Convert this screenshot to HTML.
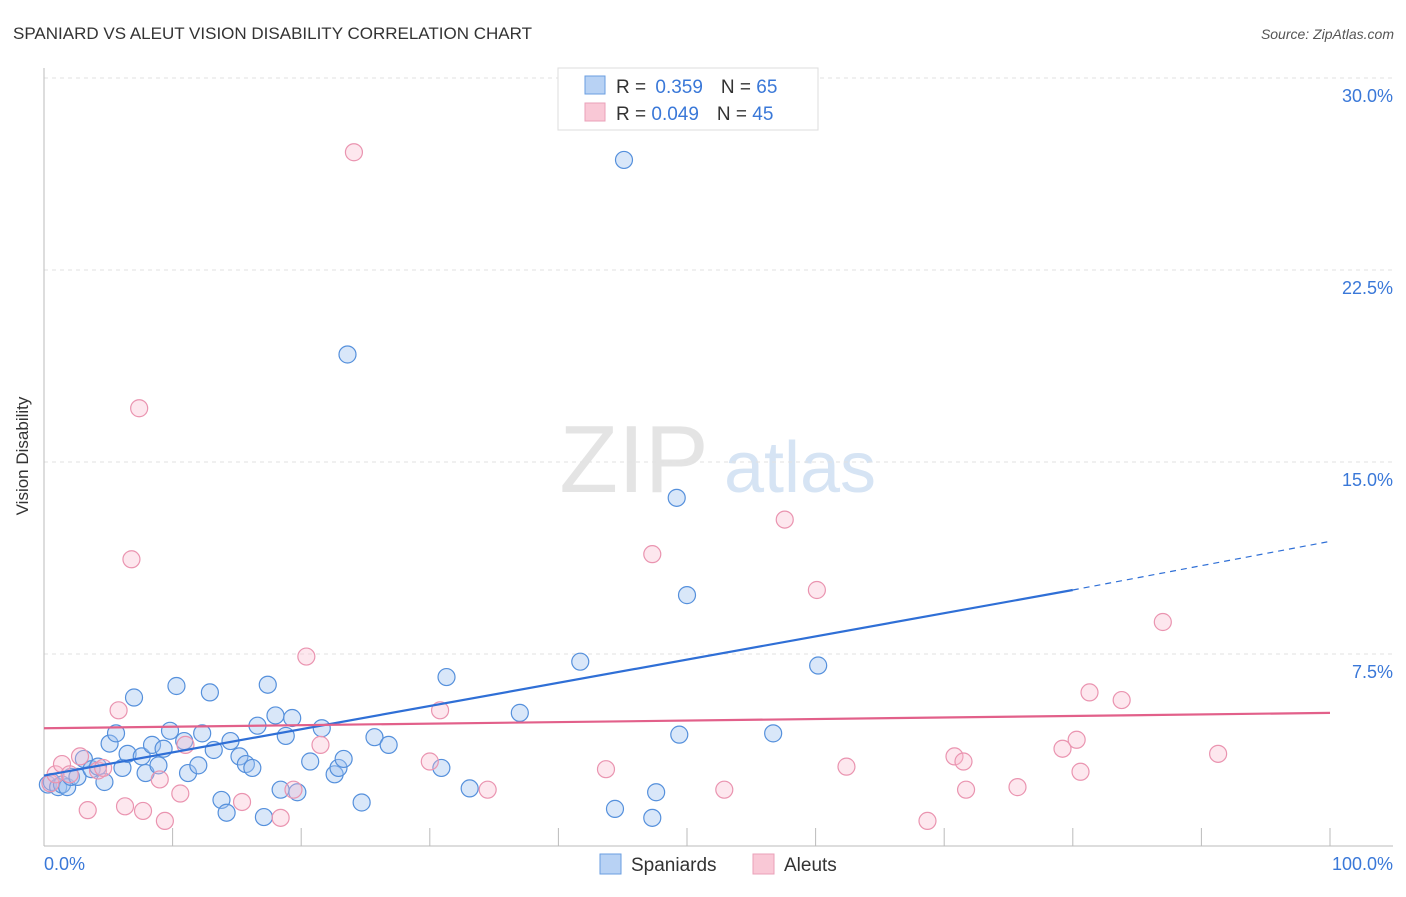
<!DOCTYPE html>
<html><head><meta charset="utf-8"><style>
body{margin:0;background:#fff;font-family:"Liberation Sans",sans-serif}
svg text{font-family:"Liberation Sans",sans-serif}
</style></head><body>
<svg width="1406" height="892">
<text x="13" y="39" font-size="17" fill="#333">SPANIARD VS ALEUT VISION DISABILITY CORRELATION CHART</text>
<text x="1394" y="39" font-size="14" fill="#555" font-style="italic" text-anchor="end">Source: ZipAtlas.com</text>
<text x="634" y="492" font-size="96" fill="#e4e4e4" font-family="Liberation Serif" text-anchor="middle">ZIP</text>
<text x="800" y="492" font-size="72" fill="#d6e4f4" text-anchor="middle">atlas</text>
<g id="grid"></g>
<line x1="44" y1="68" x2="44" y2="846" stroke="#bbb"/>
<line x1="44" y1="846" x2="1393" y2="846" stroke="#bbb"/>
<text x="28" y="456" font-size="17" fill="#333" transform="rotate(-90 28 456)" text-anchor="middle">Vision Disability</text>
<text x="44" y="870" font-size="18" fill="#3a78d8">0.0%</text>
<text x="1393" y="870" font-size="18" fill="#3a78d8" text-anchor="end">100.0%</text>
<g id="pts"></g>
<g id="trend"></g>
<g>
<rect x="558" y="68" width="260" height="62" fill="#fff" stroke="#ddd"/>
<rect x="585" y="76" width="20" height="18" fill="#b8d2f4" stroke="#6a9ee0"/>
<rect x="585" y="103" width="20" height="18" fill="#f9c8d6" stroke="#eaa0b8"/>
<text x="616" y="93" font-size="19" fill="#333">R = <tspan dx="4" fill="#3a78d8">0.359</tspan><tspan dx="18">N = </tspan><tspan fill="#3a78d8">65</tspan></text>
<text x="616" y="120" font-size="19" fill="#333">R = <tspan fill="#3a78d8">0.049</tspan><tspan dx="18">N = </tspan><tspan fill="#3a78d8">45</tspan></text>
</g>
<g>
<rect x="600" y="854" width="21" height="20" fill="#b8d2f4" stroke="#6a9ee0"/>
<text x="631" y="871" font-size="19" fill="#333">Spaniards</text>
<rect x="753" y="854" width="21" height="20" fill="#f9c8d6" stroke="#eaa0b8"/>
<text x="784" y="871" font-size="19" fill="#333">Aleuts</text>
</g>
</svg>
<script>
const yTicks=[30,22.5,15,7.5];
const yTickLabels=["30.0%","22.5%","15.0%","7.5%"];
const xTicks=[0,10,20,30,40,50,60,70,80,90,100];
const blueX=[0.3,0.6,1.1,1.4,1.8,2.1,2.6,3.1,3.7,4.2,4.7,5.1,5.6,6.1,6.5,7.0,7.6,7.9,8.4,8.9,9.3,9.8,10.3,10.9,11.2,12.0,12.3,12.9,13.2,13.8,14.2,14.5,15.2,15.7,16.2,16.6,17.1,17.4,18.0,18.4,18.8,19.3,19.7,20.7,21.6,22.6,22.9,23.3,23.6,24.7,25.7,26.8,31.3,30.9,33.1,37.0,41.7,44.4,45.1,47.3,47.6,49.2,49.4,50.0,56.7,60.2];
const blueY=[2.4,2.5,2.3,2.4,2.3,2.7,2.7,3.4,3.0,3.1,2.5,4.0,4.4,3.05,3.6,5.8,3.5,2.85,3.95,3.15,3.8,4.5,6.25,4.1,2.85,3.15,4.4,6.0,3.75,1.8,1.3,4.1,3.5,3.2,3.05,4.7,1.13,6.3,5.1,2.2,4.3,5.0,2.1,3.3,4.6,2.8,3.05,3.4,19.2,1.7,4.25,3.95,6.6,3.05,2.25,5.2,7.2,1.45,26.8,1.1,2.1,13.6,4.35,9.8,4.4,7.05];
const pinkX=[0.5,0.9,1.4,2.0,2.8,3.4,4.2,4.6,5.8,6.3,6.8,7.4,7.7,9.0,9.4,10.6,11.0,15.4,18.4,19.4,20.4,21.5,24.1,30.0,30.8,34.5,43.7,47.3,52.9,57.6,60.1,62.4,68.7,70.8,71.5,71.7,75.7,79.2,80.3,80.6,81.3,83.8,87.0,91.3];
const pinkY=[2.45,2.8,3.2,2.8,3.5,1.4,2.95,3.05,5.3,1.55,11.2,17.1,1.37,2.6,0.98,2.05,3.95,1.72,1.1,2.2,7.4,3.95,27.1,3.3,5.3,2.2,3.0,11.4,2.2,12.75,10.0,3.1,0.98,3.5,3.3,2.2,2.3,3.8,4.15,2.9,6.0,5.7,8.75,3.6];
const blueTrend=[0,2.75,80,10.0,100,11.9];
const pinkTrend=[0,4.6,100,5.2];
const X0=44,X1=1330,Y0=846,PX=192/7.5;
const sx=v=>X0+(X1-X0)*v/100, sy=v=>Y0-v*PX;
const NS="http://www.w3.org/2000/svg";
function mk(t,a,p){const e=document.createElementNS(NS,t);for(const k in a)e.setAttribute(k,a[k]);p.appendChild(e);return e;}
const grid=document.getElementById('grid');
yTicks.forEach((v,i)=>{
 const l=mk('line',{x1:44,x2:1393,y1:sy(v),y2:sy(v),stroke:'#e2e2e2','stroke-dasharray':'4,4'},grid);
 
 
 const t=mk('text',{x:1393,y:sy(v)+24,'font-size':18,fill:'#3a78d8','text-anchor':'end'},grid);
 t.textContent=yTickLabels[i];
 
 
});
xTicks.forEach(v=>{
 const l=mk('line',{x1:sx(v),x2:sx(v),y1:828,y2:846,stroke:'#bbb'},grid);
 
 
});
const pts=document.getElementById('pts');
blueX.forEach((v,i)=>{
 const c=mk('circle',{cx:sx(v),cy:sy(blueY[i]),r:8.5,fill:'rgba(160,196,240,0.4)',stroke:'#5590dc','stroke-width':1.2},pts);
 
 
});
pinkX.forEach((v,i)=>{
 const c=mk('circle',{cx:sx(v),cy:sy(pinkY[i]),r:8.5,fill:'rgba(248,185,205,0.35)',stroke:'#ea94b0','stroke-width':1.2},pts);
 
 
});
const tr=document.getElementById('trend');
const b1=mk('line',{x1:sx(blueTrend[0]),y1:sy(blueTrend[1]),x2:sx(blueTrend[2]),y2:sy(blueTrend[3]),stroke:'#2f6fd6','stroke-width':2.2},tr);


const b2=mk('line',{x1:sx(blueTrend[2]),y1:sy(blueTrend[3]),x2:sx(blueTrend[4]),y2:sy(blueTrend[5]),stroke:'#2f6fd6','stroke-width':1.2,'stroke-dasharray':'6,5'},tr);


const p1=mk('line',{x1:sx(pinkTrend[0]),y1:sy(pinkTrend[1]),x2:sx(pinkTrend[2]),y2:sy(pinkTrend[3]),stroke:'#e2608a','stroke-width':2.2},tr);


</script>
</body></html>
